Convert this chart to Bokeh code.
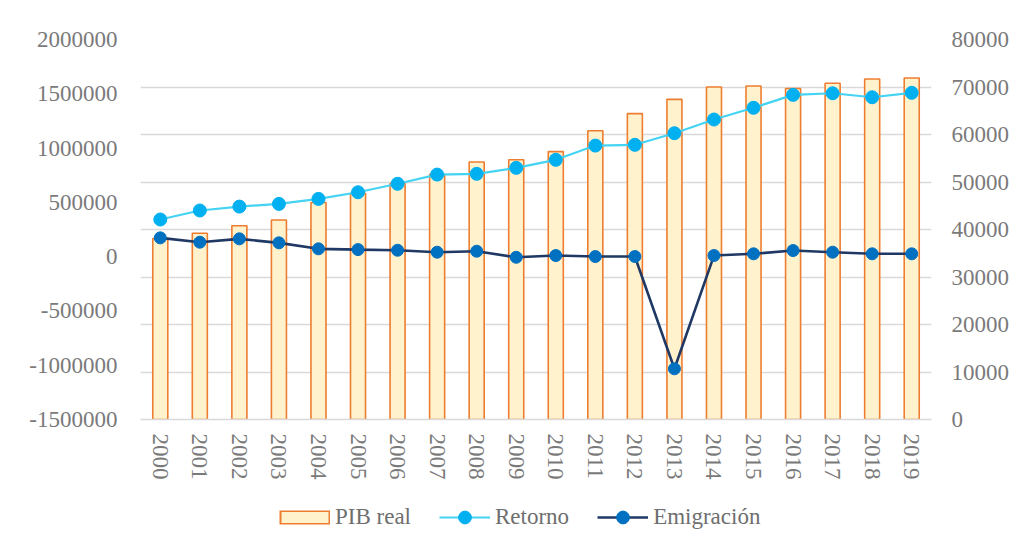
from bokeh.plotting import figure
from bokeh.layouts import column
from bokeh.models import (Range1d, LinearAxis, FixedTicker, BasicTickFormatter,
                          CustomJSTickFormatter, Legend, LegendItem, FactorRange)
from bokeh.embed import file_html
from bokeh.resources import INLINE

years = [str(y) for y in range(2000, 2020)]
pib_real = [38100, 39200, 40800, 42000, 45700, 47600, 49700, 51600, 54200, 54700,
            56400, 60800, 64400, 67400, 70000, 70200, 69700, 70800, 71700, 71900]
retorno = [342000, 425000, 461000, 486000, 532000, 593000, 671000, 756000, 763000, 818000,
           892000, 1023000, 1030000, 1137000, 1263000, 1371000, 1490000, 1505000, 1468000, 1509000]
emigracion = [173000, 133000, 164000, 127000, 72000, 65000, 59000, 41000, 50000, -6000,
              10000, 1000, 1000, -1033000, 10000, 26000, 56000, 41000, 26000, 26000]
left_ticks = [-1500000, -1000000, -500000, 0, 500000, 1000000, 1500000, 2000000]
right_ticks = [0, 10000, 20000, 30000, 40000, 50000, 60000, 70000, 80000]
series_names = ["PIB real", "Retorno", "Emigración"]

FONT = "Liberation Serif"
FSIZE = "23px"
TICK_COL = "#7a7a7a"
BAR_FILL, BAR_LINE = "#FFF2CC", "#ED7D31"
RET_LINE, RET_PT = "#45D3F3", "#00B0F0"
EMI_LINE, EMI_PT = "#1F3864", "#0070C0"

p = figure(width=1012, height=482, x_range=FactorRange(*years),
           y_range=Range1d(-1500000, 2000000), output_backend="svg",
           toolbar_location=None, min_border_left=140, min_border_right=78,
           min_border_top=39, min_border_bottom=63)
p.extra_y_ranges = {"pib": Range1d(0, 80000)}
p.outline_line_color = None
p.background_fill_color = "white"
p.border_fill_color = "white"

p.vbar(x=years, top=pib_real, bottom=0, width=0.38, y_range_name="pib",
       fill_color=BAR_FILL, line_color=BAR_LINE, line_width=1.6)
p.line(x=years, y=retorno, line_color=RET_LINE, line_width=2.2)
p.scatter(x=years, y=retorno, size=13, fill_color=RET_PT, line_color=RET_PT)
p.line(x=years, y=emigracion, line_color=EMI_LINE, line_width=2.6)
p.scatter(x=years, y=emigracion, size=12, fill_color=EMI_PT, line_color=EMI_PT)

la = p.yaxis[0]
la.ticker = FixedTicker(ticks=left_ticks)
# plain hyphen-minus, no thousands separators (as in the original)
la.formatter = CustomJSTickFormatter(code="return tick.toFixed(0);")

ra = LinearAxis(y_range_name="pib", ticker=FixedTicker(ticks=right_ticks),
                formatter=BasicTickFormatter(use_scientific=False))
p.add_layout(ra, "right")

for ax in [la, ra]:
    ax.axis_line_color = None
    ax.major_tick_line_color = None
    ax.minor_tick_line_color = None
    ax.major_tick_out = 0
    ax.major_tick_in = 0
    ax.major_label_text_font = FONT
    ax.major_label_text_font_size = FSIZE
    ax.major_label_text_color = TICK_COL
la.major_label_standoff = 23
ra.major_label_standoff = 20

xa = p.xaxis[0]
xa.axis_line_color = "#d9d9d9"
xa.axis_line_width = 1.5
xa.major_tick_line_color = None
xa.minor_tick_line_color = None
xa.major_tick_out = 0
xa.major_tick_in = 0
xa.major_label_standoff = 14
xa.major_label_orientation = "vertical"
xa.major_label_text_font = FONT
xa.major_label_text_font_size = FSIZE
xa.major_label_text_color = TICK_COL

p.xgrid.grid_line_color = None
p.ygrid.ticker = FixedTicker(ticks=right_ticks)
p.ygrid.y_range_name = "pib"
p.ygrid.grid_line_color = "#d9d9d9"
p.ygrid.grid_line_width = 1.5

# ---- legend strip (separate figure below the chart) ----
q = figure(width=1012, height=52, x_range=Range1d(0, 1), y_range=Range1d(0, 1),
           x_axis_type=None, y_axis_type=None, output_backend="svg",
           toolbar_location=None, min_border=0)
q.outline_line_color = None
q.background_fill_color = "white"
q.border_fill_color = "white"
q.grid.visible = False

off_x, off_y = [5, 6], [5, 5]   # outside the strip's ranges: only the legend swatches show
b_out = q.line(x=off_x, y=off_y, line_color=BAR_LINE, line_width=14)
b_in = q.line(x=off_x, y=off_y, line_color=BAR_FILL, line_width=11, line_dash="0 2 47 10")
r_l = q.line(x=off_x, y=off_y, line_color=RET_LINE, line_width=2.2)
r_p = q.scatter(x=off_x, y=off_y, fill_color=RET_PT, line_color=RET_PT)
e_l = q.line(x=off_x, y=off_y, line_color=EMI_LINE, line_width=2.6)
e_p = q.scatter(x=off_x, y=off_y, fill_color=EMI_PT, line_color=EMI_PT)

legend = Legend(items=[LegendItem(label=series_names[0], renderers=[b_out, b_in], index=0),
                       LegendItem(label=series_names[1], renderers=[r_l, r_p], index=0),
                       LegendItem(label=series_names[2], renderers=[e_l, e_p], index=0)],
                location=(139, 1), orientation="horizontal",
                glyph_width=51, glyph_height=32, label_height=32,
                label_standoff=5, spacing=28, padding=0, margin=0,
                border_line_color=None, background_fill_alpha=0,
                label_text_font=FONT, label_text_font_size=FSIZE,
                label_text_color="#6e6e6e")
q.add_layout(legend, "center")

layout = column(p, q, spacing=0)
open("out.html", "w").write(file_html(layout, INLINE))
